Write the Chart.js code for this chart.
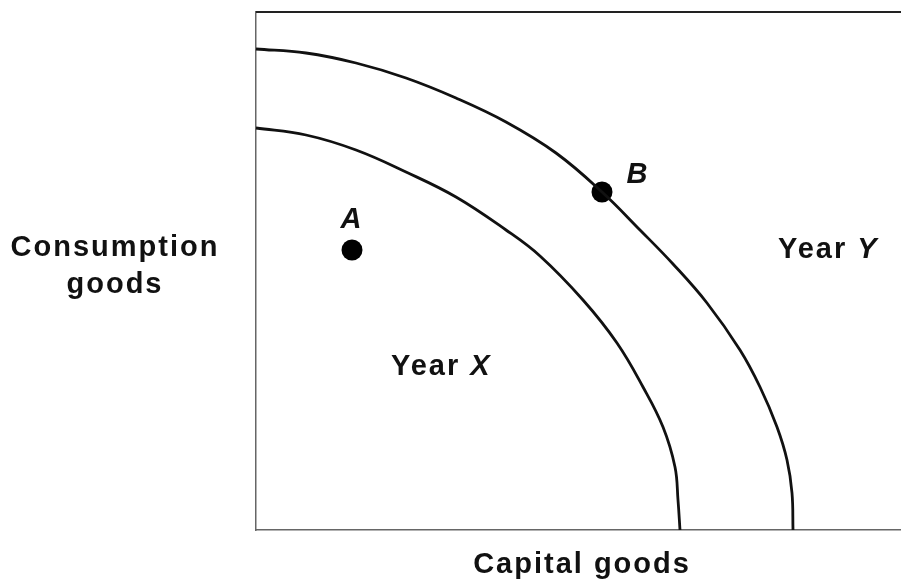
<!DOCTYPE html>
<html>
<head>
<meta charset="utf-8">
<script src="https://cdn.jsdelivr.net/npm/chart.js@4"></script>
<style>
  html, body { margin: 0; padding: 0; background: #fff; }
  #ppf { display: block; }
</style>
</head>
<body>
<canvas id="ppf" width="901" height="583"></canvas>
<script>
// production possibilities frontiers (capital goods, consumption goods)
const yearYCapital     = [0, 50, 100, 150, 200, 250, 300, 346, 384, 417, 451, 484, 504, 521, 531, 536, 537];
const yearYConsumption = [481, 477, 467, 452, 432, 408, 377, 338, 300, 266, 227, 180, 143, 103, 70, 37, 0];

const yearXCapital     = [0, 50, 100, 150, 200, 250, 284, 327, 361, 387, 407, 419, 422, 424];
const yearXConsumption = [402, 395, 380, 358, 333, 300, 274, 230, 187, 143, 103, 63, 30, 0];

const pointNames       = ['A', 'B'];
const pointCapital     = [96, 346];
const pointConsumption = [280, 338];

const axisMax = { x: 645, y: 518 };

const toXY = (xs, ys) => xs.map((x, i) => ({ x: x, y: ys[i] }));

// labels and axis names drawn on the canvas
const textPlugin = {
    id: 'ppfText',
    afterDraw(chart) {
        const ctx = chart.ctx;
        const area = chart.chartArea;
        const xs = chart.scales.x;
        const ys = chart.scales.y;

        ctx.save();
        // frame line along the top
        ctx.strokeStyle = '#222';
        ctx.lineWidth = 2;
        ctx.beginPath();
        ctx.moveTo(area.left, area.top);
        ctx.lineTo(chart.width, area.top);
        ctx.stroke();

        ctx.fillStyle = '#111';
        ctx.textBaseline = 'alphabetic';
        ctx.letterSpacing = '2px';
        const regular = 'bold 29px "Liberation Sans", Arial, sans-serif';
        const italic = 'italic bold 29px "Liberation Sans", Arial, sans-serif';

        function centered(text, cx, y) {
            ctx.font = regular;
            ctx.textAlign = 'center';
            ctx.fillText(text, cx, y);
        }
        function mixed(plain, ital, left, y) {
            ctx.textAlign = 'left';
            ctx.font = regular;
            ctx.fillText(plain, left, y);
            const w = ctx.measureText(plain).width;
            ctx.font = italic;
            ctx.fillText(ital, left + w, y);
        }

        centered('Consumption', 115, 256);
        centered('goods', 115, 293);
        centered('Capital goods', 582, 573);

        mixed('Year ', 'X', 391, 375);
        mixed('Year ', 'Y', 778, 258);

        // point letters
        ctx.font = italic;
        ctx.textAlign = 'center';
        const ax = xs.getPixelForValue(pointCapital[0]);
        const ay = ys.getPixelForValue(pointConsumption[0]);
        ctx.fillText(pointNames[0], ax, ay - 22);
        const bx = xs.getPixelForValue(pointCapital[1]);
        const by = ys.getPixelForValue(pointConsumption[1]);
        ctx.fillText(pointNames[1], bx + 36, by - 9);
        ctx.restore();
    }
};

new Chart(document.getElementById('ppf'), {
    type: 'scatter',
    data: {
        datasets: [
            {
                label: 'Year Y',
                data: toXY(yearYCapital, yearYConsumption),
                showLine: true,
                borderColor: '#111',
                borderWidth: 2.8,
                pointRadius: 0,
                tension: 0.4
            },
            {
                label: 'Year X',
                data: toXY(yearXCapital, yearXConsumption),
                showLine: true,
                borderColor: '#111',
                borderWidth: 2.8,
                pointRadius: 0,
                tension: 0.4
            },
            {
                label: 'Points',
                data: toXY(pointCapital, pointConsumption),
                showLine: false,
                pointRadius: 10.5,
                pointBackgroundColor: '#000',
                pointBorderWidth: 0
            }
        ]
    },
    options: {
        responsive: false,
        devicePixelRatio: 1,
        animation: false,
        clip: false,
        layout: { autoPadding: false, padding: { left: 256, top: 12, right: 0, bottom: 53 } },
        plugins: {
            legend: { display: false },
            tooltip: { enabled: false }
        },
        scales: {
            x: {
                type: 'linear',
                min: 0,
                max: axisMax.x,
                grid: { display: false, drawTicks: false },
                ticks: { display: false },
                border: { display: true, color: '#666', width: 1.5 }
            },
            y: {
                type: 'linear',
                min: 0,
                max: axisMax.y,
                grid: { display: false, drawTicks: false },
                ticks: { display: false },
                border: { display: true, color: '#666', width: 1.5 }
            }
        }
    },
    plugins: [textPlugin]
});
</script>
</body>
</html>
